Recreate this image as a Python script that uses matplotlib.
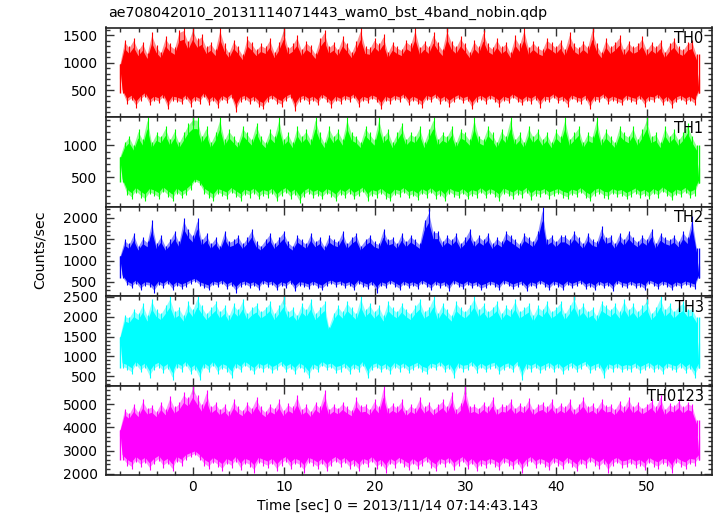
import numpy as np
import matplotlib.pyplot as plt
from matplotlib.ticker import MultipleLocator

plt.rcParams['font.family'] = ['DejaVu Sans']

title = 'ae708042010_20131114071443_wam0_bst_4band_nobin.qdp'
xlabel = 'Time [sec] 0 = 2013/11/14 07:14:43.143'
ylabel = 'Counts/sec'

# time grid of the envelope readings (0.5 s steps, -8 .. 55.5 s)
t_start = -8.0
t_step = 0.5

# upper / lower envelope (one value per 0.5 s)
th0_hi = [980, 1420, 1300, 1450, 1250, 1380, 1180, 1550, 1320, 1200, 1480, 1350, 1280, 1600, 1640, 1400,
          1640, 1450, 1520, 1300, 1380, 1250, 1640, 1350, 1200, 1420, 1300, 1150, 1480, 1380, 1250, 1350,
          1300, 1450, 1200, 1380, 1640, 1280, 1350, 1500, 1250, 1400, 1320, 1180, 1450, 1600, 1300, 1380,
          1250, 1480, 1350, 1200, 1400, 1640, 1300, 1280, 1450, 1350, 1520, 1200, 1380, 1300, 1250, 1420,
          1350, 1640, 1280, 1400, 1300, 1550, 1380, 1250, 1640, 1400, 1300, 1480, 1350, 1200, 1420, 1300,
          1600, 1350, 1280, 1450, 1300, 1380, 1200, 1500, 1350, 1640, 1280, 1400, 1300, 1250, 1450, 1380,
          1300, 1420, 1250, 1550, 1350, 1280, 1400, 1300, 1640, 1350, 1200, 1450, 1300, 1380, 1500, 1250,
          1400, 1300, 1350, 1480, 1250, 1380, 1300, 1420, 1200, 1350, 1450, 1300, 1250, 1380, 1420, 1150]
th0_lo = [450, 250, 320, 180, 300, 380, 220, 300, 260, 350, 150, 300, 280, 240, 330, 200,
          300, 250, 380, 220, 300, 180, 320, 260, 350, 100, 280, 320, 240, 300, 200, 150,
          280, 330, 250, 200, 300, 350, 120, 280, 320, 250, 300, 220, 350, 280, 180, 300,
          250, 320, 280, 350, 200, 300, 260, 330, 280, 150, 300, 250, 320, 280, 350, 220,
          300, 250, 180, 320, 280, 350, 240, 300, 200, 280, 330, 260, 300, 150, 280, 320,
          250, 330, 280, 200, 300, 260, 350, 280, 220, 300, 250, 320, 180, 300, 280, 350,
          260, 300, 200, 330, 280, 250, 320, 150, 300, 280, 350, 240, 300, 260, 220, 320,
          280, 250, 330, 200, 300, 280, 350, 220, 300, 180, 280, 320, 250, 300, 220, 450]

th1_hi = [820, 1050, 1150, 1000, 1250, 1100, 1440, 1050, 1200, 1150, 1300, 1100, 1250, 1050, 1200, 1350,
          1440, 1440, 1150, 1300, 1050, 1200, 1440, 1100, 1250, 1150, 1050, 1300, 1200, 1100, 1350, 1150,
          1050, 1250, 1150, 1440, 1100, 1200, 1050, 1300, 1150, 1250, 1100, 1440, 1200, 1050, 1300, 1150,
          1250, 1100, 1440, 1200, 1150, 1050, 1300, 1200, 1100, 1440, 1150, 1250, 1050, 1200, 1350, 1100,
          1200, 1150, 1300, 1050, 1250, 1440, 1100, 1200, 1150, 1300, 1050, 1250, 1200, 1100, 1440, 1150,
          1100, 1300, 1200, 1050, 1250, 1150, 1440, 1100, 1200, 1050, 1300, 1150, 1250, 1100, 1200, 1050,
          1250, 1150, 1440, 1100, 1200, 1300, 1050, 1200, 1150, 1440, 1100, 1250, 1150, 1050, 1300, 1200,
          1150, 1300, 1100, 1250, 1440, 1150, 1200, 1050, 1300, 1150, 1250, 1100, 1200, 1350, 1150, 1000]
th1_lo = [420, 220, 150, 250, 180, 120, 230, 200, 150, 260, 190, 120, 240, 170, 220, 300,
          420, 380, 240, 180, 120, 230, 200, 160, 250, 190, 130, 220, 180, 240, 150, 210,
          180, 240, 120, 200, 250, 160, 220, 90, 190, 240, 170, 210, 150, 230, 190, 120,
          220, 170, 240, 150, 200, 260, 130, 210, 180, 240, 160, 120, 220, 190, 250, 170,
          200, 140, 230, 180, 250, 160, 210, 120, 240, 190, 170, 230, 150, 210, 180, 250,
          170, 230, 190, 120, 240, 200, 160, 220, 180, 250, 140, 210, 190, 230, 160, 200,
          230, 180, 150, 220, 190, 250, 170, 120, 210, 240, 180, 160, 230, 190, 210, 150,
          190, 240, 170, 210, 150, 230, 180, 260, 200, 140, 220, 190, 250, 170, 210, 400]

th2_hi = [1100, 1500, 1400, 1650, 1350, 1550, 1450, 1950, 1400, 1600, 1350, 1500, 1700, 1450, 2000, 1750,
          1600, 2000, 1500, 1650, 1400, 1550, 1350, 1700, 1450, 1500, 1600, 1400, 1550, 1750, 1450, 1350,
          1500, 1650, 1400, 1550, 1700, 1450, 1350, 1600, 1500, 1400, 1650, 1450, 1550, 1350, 1600, 1500,
          1450, 1700, 1400, 1550, 1650, 1350, 1500, 1600, 1450, 1400, 1750, 1500, 1550, 1400, 1650, 1450,
          1600, 1500, 1400, 1950, 2200, 1700, 1700, 1450, 1600, 1500, 1650, 1400, 1550, 1750, 1450, 1600,
          1500, 1650, 1400, 1550, 1450, 1700, 1600, 1500, 1400, 1650, 1550, 1450, 1700, 2260, 1500, 1600,
          1450, 1600, 1600, 1500, 1700, 1550, 1400, 1650, 1500, 1450, 1800, 1550, 1600, 1400, 1650, 1500,
          1700, 1550, 1450, 1600, 1500, 1750, 1400, 1650, 1550, 1500, 1600, 1450, 1700, 1550, 2050, 1300]
th2_lo = [600, 420, 350, 450, 300, 400, 380, 250, 420, 350, 450, 300, 400, 330, 380, 450,
          500, 400, 350, 300, 420, 380, 450, 330, 400, 250, 380, 420, 350, 400, 300, 450,
          380, 420, 300, 400, 350, 450, 280, 400, 380, 330, 420, 350, 300, 400, 450, 380,
          420, 350, 400, 300, 450, 380, 330, 420, 250, 400, 350, 450, 380, 300, 420, 350,
          400, 330, 450, 380, 300, 420, 350, 400, 280, 450, 380, 330, 420, 350, 400, 300,
          350, 420, 380, 300, 450, 400, 330, 380, 420, 280, 400, 350, 450, 380, 300, 420,
          380, 300, 420, 350, 400, 450, 330, 380, 300, 420, 350, 400, 280, 450, 380, 350,
          420, 350, 380, 300, 450, 400, 330, 420, 380, 300, 400, 350, 420, 380, 330, 600]

th3_hi = [1500, 2050, 2000, 2200, 2100, 2350, 2050, 2450, 2200, 2100, 2300, 2520, 2150, 2250, 2050, 2400,
          2200, 2520, 2300, 2100, 2250, 2400, 2150, 2300, 2050, 2350, 2200, 2450, 2100, 2250, 2350, 2150,
          2250, 2400, 2100, 2300, 2520, 2150, 2250, 2050, 2350, 2200, 2450, 2100, 2250, 2400, 1750, 2100,
          2300, 2150, 2400, 2250, 2100, 2520, 2200, 2350, 2150, 2300, 2050, 2400, 2250, 2150, 2350, 2200,
          2100, 2300, 2450, 2150, 2250, 2520, 2100, 2350, 2200, 2050, 2400, 2250, 2150, 2300, 2520, 2200,
          2350, 2150, 2250, 2400, 2100, 2300, 2200, 2450, 2150, 2250, 2350, 2050, 2300, 2200, 2400, 2150,
          2250, 2400, 2100, 2300, 2520, 2200, 2350, 2150, 2250, 2050, 2400, 2300, 2200, 2350, 2150, 2450,
          2200, 2350, 2150, 2300, 2450, 2100, 2250, 2520, 2200, 2350, 2150, 2300, 2400, 2200, 2250, 2000]
th3_lo = [700, 650, 550, 750, 600, 700, 450, 650, 720, 580, 680, 400, 700, 620, 750, 550,
          650, 400, 700, 600, 750, 550, 680, 620, 450, 700, 600, 750, 650, 550, 700, 620,
          700, 580, 650, 750, 600, 680, 550, 700, 620, 450, 680, 600, 750, 650, 700, 580,
          620, 700, 550, 680, 600, 750, 450, 650, 700, 600, 680, 550, 720, 620, 700, 580,
          650, 720, 600, 550, 700, 650, 750, 600, 680, 450, 700, 620, 650, 750, 580, 700,
          600, 680, 720, 550, 650, 700, 600, 750, 400, 680, 620, 700, 580, 650, 720, 600,
          700, 550, 650, 720, 600, 680, 750, 580, 650, 700, 450, 680, 620, 700, 600, 650,
          620, 700, 580, 650, 720, 600, 680, 550, 700, 650, 600, 720, 580, 680, 450, 700]

th0123_hi = [3900, 4800, 4600, 5000, 4700, 5200, 4850, 4950, 4700, 5100, 4800, 5350, 4900, 5100, 5500, 5300,
             5800, 5400, 5000, 5600, 4900, 5100, 4800, 5000, 4700, 5200, 4900, 4750, 5100, 4850, 5300, 4900,
             4700, 5000, 4850, 5200, 4750, 5050, 4900, 5400, 4800, 5000, 4700, 5100, 4900, 5600, 4800, 5000,
             4850, 5100, 4900, 4750, 5300, 4950, 5000, 4800, 5200, 4900, 5800, 4850, 5050, 4900, 5200, 4750,
             5000, 4850, 5300, 4900, 5100, 4800, 5000, 5200, 4900, 5500, 4800, 5050, 5800, 4900, 5000, 4850,
             5100, 4900, 5300, 4800, 5000, 4950, 5200, 4850, 5050, 4900, 5250, 4800, 5000, 5100, 4900, 5200,
             4850, 5050, 4900, 5200, 4800, 5000, 5300, 4900, 5050, 4850, 5200, 4950, 5000, 4800, 5150, 4900,
             5300, 4900, 5100, 4850, 5000, 5200, 4900, 5400, 4800, 5050, 4950, 5200, 4900, 5100, 5000, 4300]
th0123_lo = [2600, 2350, 2200, 2500, 2300, 2450, 2150, 2400, 2550, 2250, 2400, 2100, 2500, 2350, 2600, 2700,
             2800, 2600, 2350, 2200, 2450, 2300, 2100, 2400, 2250, 2500, 2150, 2400, 2300, 2050, 2450, 2350,
             2250, 2400, 2100, 2350, 2500, 2200, 2400, 2300, 2050, 2450, 2350, 2200, 2400, 2100, 2350, 2500,
             2300, 2450, 2200, 2350, 2100, 2400, 2300, 2500, 2200, 2350, 2050, 2400, 2250, 2450, 2300, 2150,
             2400, 2200, 2350, 2500, 2250, 2100, 2400, 2300, 2450, 2150, 2350, 2500, 2200, 2400, 2100, 2350,
             2250, 2400, 2300, 2150, 2450, 2350, 2200, 2400, 2050, 2350, 2500, 2250, 2400, 2300, 2150, 2450,
             2350, 2200, 2450, 2300, 2100, 2400, 2250, 2500, 2350, 2200, 2400, 2050, 2350, 2450, 2250, 2300,
             2400, 2250, 2350, 2150, 2450, 2300, 2200, 2400, 2350, 2050, 2450, 2300, 2200, 2400, 2350, 2600]

# typical level of each light curve (centre of the dense band)
levels = [710, 650, 870, 1330, 3620]

names = ['TH0', 'TH1', 'TH2', 'TH3', 'TH0123']
colors = ['#ff0000', '#00ff00', '#0000ff', '#00ffff', '#ff00ff']
his = [th0_hi, th1_hi, th2_hi, th3_hi, th0123_hi]
los = [th0_lo, th1_lo, th2_lo, th3_lo, th0123_lo]
ylims = [(10, 1640), (40, 1440), (170, 2265), (270, 2520), (1945, 5800)]
ymajor = [500, 500, 500, 500, 1000]
yminor = [100, 100, 100, 100, 200]

fig = plt.figure(figsize=(7.17, 5.16), dpi=100)
W, H = 717.0, 516.0
left, right = 106, 712
edges = [27.5, 117, 206.5, 296, 385.5, 475]


def band(ax, t_up, up, t_dn, dn, **kw):
    ax.fill(np.r_[t_up, t_dn[::-1]], np.r_[up, dn[::-1]], lw=0, **kw)


axes = []
for i in range(5):
    top, bot = edges[i], edges[i + 1]
    ax = fig.add_axes([left / W, 1 - bot / H, (right - left) / W, (bot - top) / H])
    axes.append(ax)

    hi = np.array(his[i], dtype=float)
    lo = np.array(los[i], dtype=float)
    n = len(hi)
    t_hi = t_start + t_step * np.arange(n)
    t_lo = t_hi + t_step / 2
    mid = levels[i]

    # light error-bar fringe, solid core, then the single spikes
    band(ax, t_hi, mid + 0.93 * (hi - mid), t_lo, mid + 0.93 * (lo - mid), color=colors[i], alpha=0.45)
    band(ax, t_hi, mid + 0.76 * (hi - mid), t_lo, mid + 0.8 * (lo - mid), color=colors[i])
    ax.vlines(t_hi, mid, hi, color=colors[i], lw=0.8)
    ax.vlines(t_lo, lo, mid, color=colors[i], lw=0.8)
    ax.vlines([t_hi[0], t_lo[-1]], [lo[0], lo[-1]], [hi[0], hi[-1]], color=colors[i], lw=1.0)

    ax.set_xlim(-9.58, 57.16)
    ax.set_ylim(*ylims[i])
    ax.xaxis.set_major_locator(MultipleLocator(10))
    ax.xaxis.set_minor_locator(MultipleLocator(2))
    ax.yaxis.set_minor_locator(MultipleLocator(yminor[i]))
    ax.tick_params(which='both', direction='in', top=True, right=True,
                   labelsize=10, color='#333333', width=1.0)
    ax.tick_params(which='major', length=6)
    ax.tick_params(which='minor', length=3)
    ax.tick_params(axis='y', pad=6)
    # drop the tick label sitting on the shared top edge
    lim_top = ylims[i][1] if i == 3 else ylims[i][1] - 0.06 * (ylims[i][1] - ylims[i][0])
    yt = [v for v in np.arange(0, ylims[i][1] + 1, ymajor[i]) if ylims[i][0] < v <= lim_top]
    ax.set_yticks(yt)
    for s in ax.spines.values():
        s.set_linewidth(1.2)
        s.set_color('#222222')
    if i < 4:
        ax.tick_params(labelbottom=False)
    ax.text(0.986, 0.96, names[i], transform=ax.transAxes, ha='right', va='top', fontsize=10.5)

fig.text(398 / W, 1 - 506 / H, xlabel, ha='center', va='center', fontsize=9.9)
fig.text(40 / W, 1 - 250 / H, ylabel, rotation=90, ha='center', va='center', fontsize=10.3)
fig.text(108 / W, 1 - 13 / H, title, ha='left', va='center', fontsize=10.2)

fig.savefig('out.png', dpi=100)
